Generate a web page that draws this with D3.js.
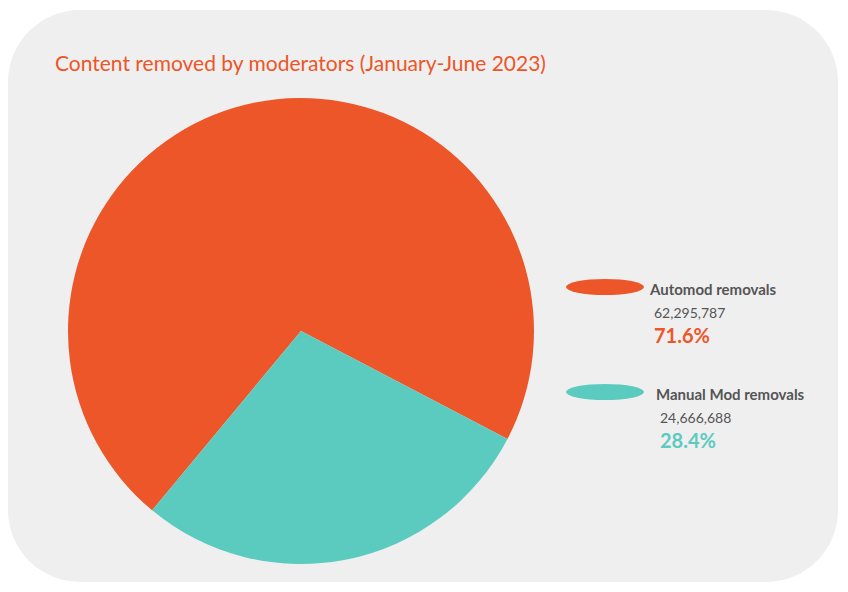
<!DOCTYPE html>
<html><head><meta charset="utf-8">
<script src="https://cdn.jsdelivr.net/npm/d3@7"></script>
<style>body{margin:0;background:#fff;font-family:Lato,"Noto Sans",sans-serif}</style>
</head><body>
<script>
// chart data
var categories = ['Automod removals', 'Manual Mod removals'];
var counts = [62295787, 24666688];
var percents = ['71.6%', '28.4%'];
var colors = ['#ec5628', '#5ccbbf'];

var W = 848, H = 592;
var svg = d3.select('body').append('svg').attr('width', W).attr('height', H);

svg.append('rect').attr('x', 8).attr('y', 10).attr('width', 830).attr('height', 572)
	.attr('rx', 72).attr('ry', 72).attr('fill', '#efefef');

svg.append('text').attr('x', 55).attr('y', 71).attr('fill', '#ec5628')
	.style('font-size', '21px').text('Content removed by moderators (January-June 2023)');

var cx = 301, cy = 331, r = 233;
var start = 219.7 * Math.PI / 180;
var pie = d3.pie().sort(null).startAngle(start).endAngle(start + 2 * Math.PI);
var arc = d3.arc().innerRadius(0).outerRadius(r);

svg.append('g').attr('transform', 'translate(' + cx + ',' + cy + ')')
	.selectAll('path').data(pie(counts)).enter().append('path')
	.attr('d', arc).attr('fill', (d, i) => colors[i]);

// legend
var lx = [566, 566], ly = [287, 392], tx = [650, 656];
var fmt = d3.format(',');
categories.forEach(function (c, i) {
	var g = svg.append('g');
	g.append('rect').attr('x', lx[i]).attr('y', ly[i] - 8).attr('width', 78).attr('height', 16)
		.attr('rx', 39).attr('ry', 8).attr('fill', colors[i]);
	g.append('text').attr('x', tx[i]).attr('y', ly[i] + 8).attr('fill', '#555')
		.style('font-size', '15px').style('font-weight', 'bold').text(c);
	g.append('text').attr('x', tx[i] + 4).attr('y', ly[i] + 31).attr('fill', '#555')
		.style('font-size', '14px').text(fmt(counts[i]));
	g.append('text').attr('x', tx[i] + 4).attr('y', ly[i] + 56).attr('fill', colors[i])
		.style('font-size', '20px').style('font-weight', 'bold').text(percents[i]);
});
</script>
</body></html>
